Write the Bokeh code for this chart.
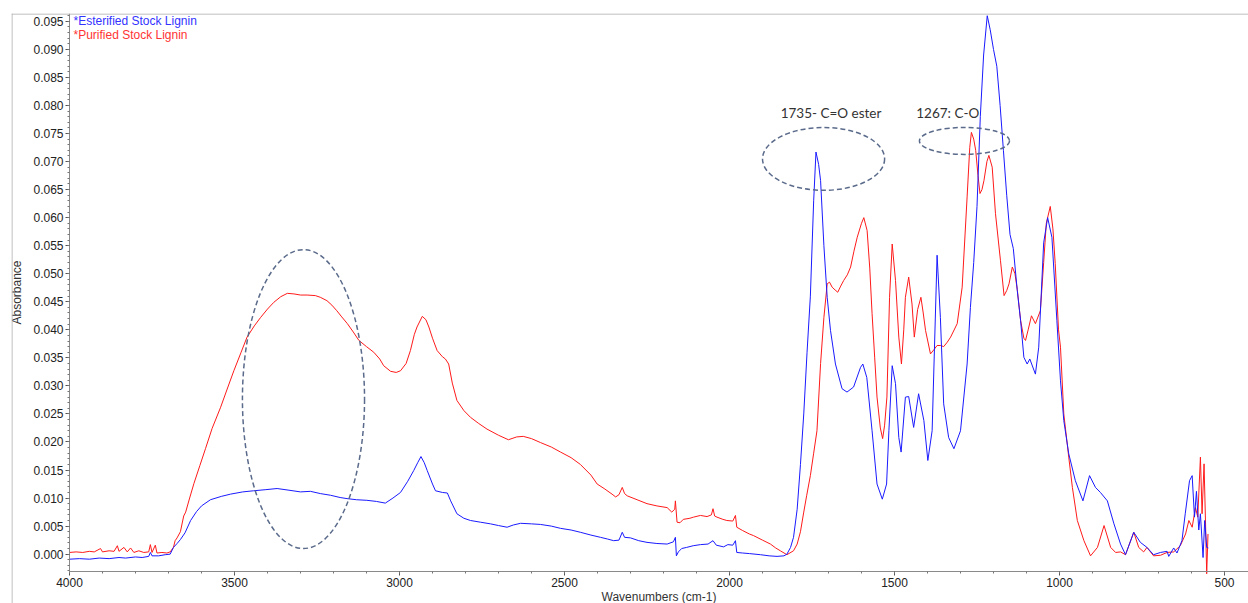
from bokeh.plotting import figure
from bokeh.models import (Range1d, LinearAxis, SingleIntervalTicker, NumeralTickFormatter,
                          Span, Label)
from bokeh.embed import file_html
from bokeh.resources import INLINE

# ---------------- data ----------------
esterified_wn = [4000, 3970, 3940, 3910, 3880, 3850, 3830, 3800, 3780, 3760, 3755, 3750, 3730, 3710,
                 3695, 3685, 3674, 3664, 3650, 3633, 3615, 3600, 3573, 3540, 3512, 3475, 3442, 3405,
                 3371, 3335, 3300, 3270, 3240, 3209, 3180, 3159, 3130, 3099, 3070, 3043, 3020, 2997,
                 2975, 2957, 2945, 2935, 2925, 2916, 2900, 2891, 2870, 2855, 2845, 2826, 2805, 2785,
                 2755, 2724, 2700, 2674, 2655, 2633, 2600, 2573, 2540, 2512, 2480, 2452, 2420, 2391,
                 2370, 2351, 2335, 2325, 2318, 2300, 2275, 2250, 2220, 2189, 2170, 2164, 2161, 2155,
                 2145, 2130, 2110, 2088, 2065, 2050, 2040, 2018, 2005, 1990, 1982, 1978, 1960, 1940,
                 1906, 1880, 1856, 1835, 1826, 1815, 1806, 1795, 1785, 1775, 1765, 1755, 1745, 1738,
                 1730, 1724, 1714, 1704, 1694, 1679, 1659, 1644, 1624, 1603, 1596, 1584, 1568, 1553,
                 1537, 1524, 1517, 1507, 1497, 1487, 1480, 1467, 1457, 1442, 1427, 1411, 1399, 1386,
                 1371, 1361, 1351, 1336, 1320, 1300, 1280, 1270, 1260, 1250, 1240, 1230, 1219, 1210,
                 1200, 1190, 1180, 1170, 1160, 1150, 1140, 1128, 1118, 1108, 1098, 1090, 1073, 1063,
                 1048, 1036, 1023, 1008, 997, 987, 972, 952, 929, 909, 891, 876, 855, 835, 815, 800,
                 775, 755, 735, 715, 694, 674, 669, 654, 644, 629, 619, 606, 598, 591, 585, 578, 573,
                 565, 560, 554, 549]
esterified_abs = [-0.0009, -0.0008, -0.0009, -0.0007, -0.0008, -0.0006, -0.0007, -0.0005, -0.0006,
                  -0.0004, 0.0003, -0.0003, -0.0003, -0.0001, 0.0000, 0.0012, 0.0019, 0.0026, 0.0038,
                  0.0060, 0.0076, 0.0086, 0.0097, 0.0103, 0.0107, 0.0111, 0.0113, 0.0115, 0.0117,
                  0.0114, 0.0111, 0.0112, 0.0108, 0.0105, 0.0101, 0.0099, 0.0097, 0.0096, 0.0094,
                  0.0091, 0.0100, 0.0110, 0.0130, 0.0149, 0.0163, 0.0174, 0.0163, 0.0149, 0.0125,
                  0.0113, 0.0110, 0.0109, 0.0095, 0.0072, 0.0064, 0.0060, 0.0057, 0.0054, 0.0051,
                  0.0048, 0.0052, 0.0055, 0.0054, 0.0053, 0.0050, 0.0046, 0.0043, 0.0039, 0.0034,
                  0.0030, 0.0027, 0.0024, 0.0025, 0.0039, 0.0030, 0.0029, 0.0024, 0.0021, 0.0019,
                  0.0018, 0.0022, 0.0030, -0.0003, 0.0004, 0.0010, 0.0012, 0.0015, 0.0017, 0.0018,
                  0.0024, 0.0016, 0.0013, 0.0017, 0.0016, 0.0024, 0.0003, 0.0002, 0.0001, -0.0001,
                  -0.0003, -0.0004, -0.0003, 0.0000, 0.0012, 0.0030, 0.0080, 0.0160, 0.0250, 0.0360,
                  0.0460, 0.0630, 0.0717, 0.0695, 0.0666, 0.0550, 0.0458, 0.0399, 0.0339, 0.0295,
                  0.0289, 0.0298, 0.0333, 0.0339, 0.0315, 0.0220, 0.0125, 0.0098, 0.0125, 0.0220,
                  0.0336, 0.0304, 0.0208, 0.0182, 0.0280, 0.0281, 0.0226, 0.0286, 0.0238, 0.0167,
                  0.0220, 0.0533, 0.0422, 0.0268, 0.0208, 0.0188, 0.0220, 0.0339, 0.0440, 0.0520,
                  0.0620, 0.0780, 0.0890, 0.0960, 0.0935, 0.0900, 0.0870, 0.0800, 0.0720, 0.0640,
                  0.0570, 0.0545, 0.0470, 0.0417, 0.0351, 0.0339, 0.0348, 0.0321, 0.0369, 0.0555,
                  0.0600, 0.0565, 0.0417, 0.0309, 0.0238, 0.0179, 0.0131, 0.0095, 0.0140, 0.0119,
                  0.0110, 0.0095, 0.0054, 0.0018, -0.0001, 0.0039, 0.0021, 0.0012, -0.0001, 0.0003,
                  0.0005, -0.0004, 0.0011, 0.0002, 0.0024, 0.0072, 0.0131, 0.0140, 0.0066, 0.0112,
                  0.0043, 0.0072, -0.0006, 0.0060, 0.0012, 0.0011]

purified_wn = [4000, 3980, 3960, 3940, 3925, 3906, 3900, 3880, 3865, 3855, 3850, 3835, 3825, 3815,
               3805, 3790, 3775, 3760, 3755, 3750, 3740, 3735, 3720, 3705, 3695, 3685, 3680, 3674,
               3664, 3654, 3648, 3636, 3623, 3605, 3588, 3568, 3542, 3520, 3502, 3480, 3462, 3440,
               3421, 3400, 3381, 3360, 3340, 3320, 3300, 3280, 3255, 3240, 3220, 3205, 3190, 3175,
               3158, 3140, 3123, 3100, 3078, 3060, 3048, 3027, 3010, 2997, 2980, 2967, 2955, 2947,
               2931, 2920, 2911, 2900, 2886, 2870, 2861, 2851, 2840, 2826, 2805, 2785, 2760, 2735,
               2700, 2670, 2645, 2625, 2600, 2573, 2540, 2512, 2480, 2452, 2420, 2401, 2380, 2356,
               2345, 2335, 2325, 2318, 2310, 2280, 2250, 2220, 2189, 2175, 2166, 2164, 2159, 2150,
               2140, 2120, 2109, 2088, 2068, 2055, 2050, 2045, 2038, 2020, 2008, 1990, 1982, 1978,
               1960, 1940, 1927, 1900, 1876, 1860, 1846, 1826, 1806, 1795, 1785, 1775, 1766, 1755,
               1745, 1735, 1724, 1714, 1704, 1697, 1689, 1680, 1672, 1663, 1654, 1643, 1633, 1623,
               1613, 1600, 1593, 1583, 1575, 1568, 1560, 1553, 1543, 1536, 1530, 1523, 1515, 1507,
               1497, 1487, 1479, 1472, 1467, 1457, 1447, 1440, 1430, 1420, 1413, 1406, 1391, 1380,
               1371, 1360, 1351, 1340, 1330, 1310, 1295, 1280, 1272, 1267, 1260, 1254, 1247, 1241,
               1235, 1229, 1220, 1214, 1204, 1194, 1179, 1168, 1160, 1153, 1143, 1135, 1128, 1118,
               1108, 1103, 1095, 1085, 1073, 1058, 1048, 1040, 1028, 1020, 1013, 1003, 997, 987,
               972, 961, 946, 926, 906, 885, 865, 845, 830, 815, 800, 775, 760, 745, 735, 715, 694,
               674, 654, 634, 618, 608, 598, 588, 581, 573, 568, 562, 557, 554, 550]
purified_abs = [0.0003, 0.0004, 0.0003, 0.0005, 0.0004, 0.0010, 0.0004, 0.0006, 0.0005, 0.0015,
                0.0005, 0.0012, 0.0004, 0.0011, 0.0003, 0.0006, 0.0003, 0.0004, 0.0017, 0.0003,
                0.0016, 0.0002, 0.0003, 0.0002, 0.0004, 0.0012, 0.0024, 0.0029, 0.0040, 0.0068,
                0.0075, 0.0100, 0.0126, 0.0158, 0.0188, 0.0224, 0.0262, 0.0298, 0.0327, 0.0360,
                0.0387, 0.0407, 0.0422, 0.0437, 0.0449, 0.0459, 0.0465, 0.0464, 0.0462, 0.0462,
                0.0461, 0.0458, 0.0452, 0.0444, 0.0434, 0.0423, 0.0411, 0.0396, 0.0381, 0.0370,
                0.0360, 0.0348, 0.0336, 0.0326, 0.0324, 0.0327, 0.0340, 0.0363, 0.0392, 0.0405,
                0.0424, 0.0418, 0.0405, 0.0385, 0.0363, 0.0352, 0.0348, 0.0339, 0.0305, 0.0274,
                0.0256, 0.0244, 0.0233, 0.0223, 0.0212, 0.0204, 0.0209, 0.0210, 0.0206, 0.0199,
                0.0191, 0.0182, 0.0172, 0.0160, 0.0141, 0.0125, 0.0117, 0.0107, 0.0102, 0.0106,
                0.0119, 0.0108, 0.0104, 0.0097, 0.0090, 0.0086, 0.0083, 0.0075, 0.0080, 0.0095,
                0.0057, 0.0056, 0.0062, 0.0064, 0.0066, 0.0069, 0.0067, 0.0070, 0.0081, 0.0068,
                0.0066, 0.0062, 0.0060, 0.0059, 0.0069, 0.0048, 0.0042, 0.0036, 0.0033, 0.0025,
                0.0018, 0.0011, 0.0006, -0.0001, 0.0006, 0.0018, 0.0040, 0.0075, 0.0105, 0.0140,
                0.0180, 0.0220, 0.0340, 0.0422, 0.0482, 0.0485, 0.0476, 0.0471, 0.0467, 0.0478,
                0.0488, 0.0498, 0.0512, 0.0540, 0.0565, 0.0590, 0.0600, 0.0577, 0.0510, 0.0429,
                0.0350, 0.0280, 0.0225, 0.0206, 0.0230, 0.0280, 0.0458, 0.0553, 0.0488, 0.0387,
                0.0339, 0.0400, 0.0458, 0.0494, 0.0446, 0.0387, 0.0436, 0.0458, 0.0430, 0.0399,
                0.0357, 0.0365, 0.0372, 0.0372, 0.0370, 0.0378, 0.0387, 0.0411, 0.0476, 0.0637,
                0.0725, 0.0752, 0.0740, 0.0720, 0.0675, 0.0643, 0.0650, 0.0666, 0.0700, 0.0711,
                0.0690, 0.0607, 0.0524, 0.0461, 0.0470, 0.0482, 0.0512, 0.0500, 0.0472, 0.0417,
                0.0385, 0.0381, 0.0400, 0.0425, 0.0411, 0.0434, 0.0520, 0.0590, 0.0620, 0.0580,
                0.0518, 0.0400, 0.0369, 0.0250, 0.0173, 0.0119, 0.0060, 0.0024, -0.0003, 0.0012,
                0.0051, 0.0012, 0.0003, 0.0004, -0.0001, 0.0039, 0.0012, 0.0004, 0.0012, -0.0003,
                -0.0002, 0.0003, 0.0004, 0.0015, 0.0036, 0.0060, 0.0048, 0.0083, 0.0066, 0.0173,
                0.0072, 0.0161, 0.0043, -0.0035, 0.0036]

series_names = ["*Esterified Stock Lignin", "*Purified Stock Lignin"]
x_tick_interval = 500
y_tick_interval = 0.005

# annotation ellipses (centre wavenumber, centre absorbance, width, height)
ellipse_x = [3291, 1715, 1288]
ellipse_y = [0.02765, 0.07047, 0.07368]
ellipse_w = [370, 370, 273]
ellipse_h = [0.0533, 0.0112, 0.0048]
note_texts = ["1735- C=O ester", "1267: C-O"]
note_x = [1845, 1434]
note_y = [0.0786, 0.0786]

# ---------------- figure ----------------
X0, X1 = 4175.8, 427.3
Y0, Y1 = -0.0088, 0.0964
p = figure(width=1248, height=603, output_backend="svg", toolbar_location=None,
           x_range=Range1d(X0, X1), y_range=Range1d(Y0, Y1),
           x_axis_type=None, y_axis_type=None,
           min_border_left=11, min_border_top=13, min_border_right=0, min_border_bottom=0)
p.outline_line_color = None
p.background_fill_color = "white"
p.border_fill_color = "white"

TICK_FONT = "Liberation Sans"

xaxis = LinearAxis(fixed_location=-0.00312, bounds=(400, 4000),
                   ticker=SingleIntervalTicker(interval=x_tick_interval, num_minor_ticks=5),
                   axis_label="Wavenumbers (cm-1)")
yaxis = LinearAxis(fixed_location=4000, bounds=(-0.00312, Y1),
                   ticker=SingleIntervalTicker(interval=y_tick_interval, num_minor_ticks=5),
                   formatter=NumeralTickFormatter(format="0.000"),
                   axis_label="Absorbance")
for ax in (xaxis, yaxis):
    ax.axis_line_color = "#8a8a8a"
    ax.major_tick_line_color = "#555555"
    ax.minor_tick_line_color = "#777777"
    ax.major_tick_in = 0
    ax.major_tick_out = 4
    ax.minor_tick_in = 0
    ax.minor_tick_out = 2
    ax.major_label_text_font = TICK_FONT
    ax.major_label_text_font_size = "12px"
    ax.major_label_text_color = "#222222"
    ax.major_label_standoff = 2
    ax.axis_label_text_font = TICK_FONT
    ax.axis_label_text_font_size = "12px"
    ax.axis_label_text_font_style = "normal"
    ax.axis_label_text_color = "#333333"
xaxis.axis_label_standoff = 0
yaxis.axis_label_standoff = 6
p.add_layout(xaxis, "below")
p.add_layout(yaxis, "left")

# outer frame lines (left and top)
p.add_layout(Span(location=X0 - 1.5, dimension="height", line_color="#aaaaaa", line_width=1))
p.add_layout(Span(location=Y1 - 0.00009, dimension="width", line_color="#aaaaaa", line_width=1))

# spectra
p.line(purified_wn, purified_abs, line_color="#ff1a1a", line_width=1)
p.line(esterified_wn, esterified_abs, line_color="#1a1aff", line_width=1)

# dashed annotation ellipses
p.ellipse(x=ellipse_x, y=ellipse_y, width=ellipse_w, height=ellipse_h,
          fill_color=None, line_color="#5a6a8a", line_width=1.5, line_dash="5 3")

for t, x, y in zip(note_texts, note_x, note_y):
    p.add_layout(Label(x=x, y=y, text=t, text_font="Lato", text_font_size="13.5px",
                       text_color="#333333", text_baseline="middle", text_align="left"))

# series legend as coloured text
p.add_layout(Label(x=3988, y=0.0950, text=series_names[0], text_font=TICK_FONT,
                   text_font_size="12px", text_color="#3333ff", text_baseline="middle"))
p.add_layout(Label(x=3988, y=0.0925, text=series_names[1], text_font=TICK_FONT,
                   text_font_size="12px", text_color="#ff3333", text_baseline="middle"))

open("out.html", "w").write(file_html(p, INLINE))
